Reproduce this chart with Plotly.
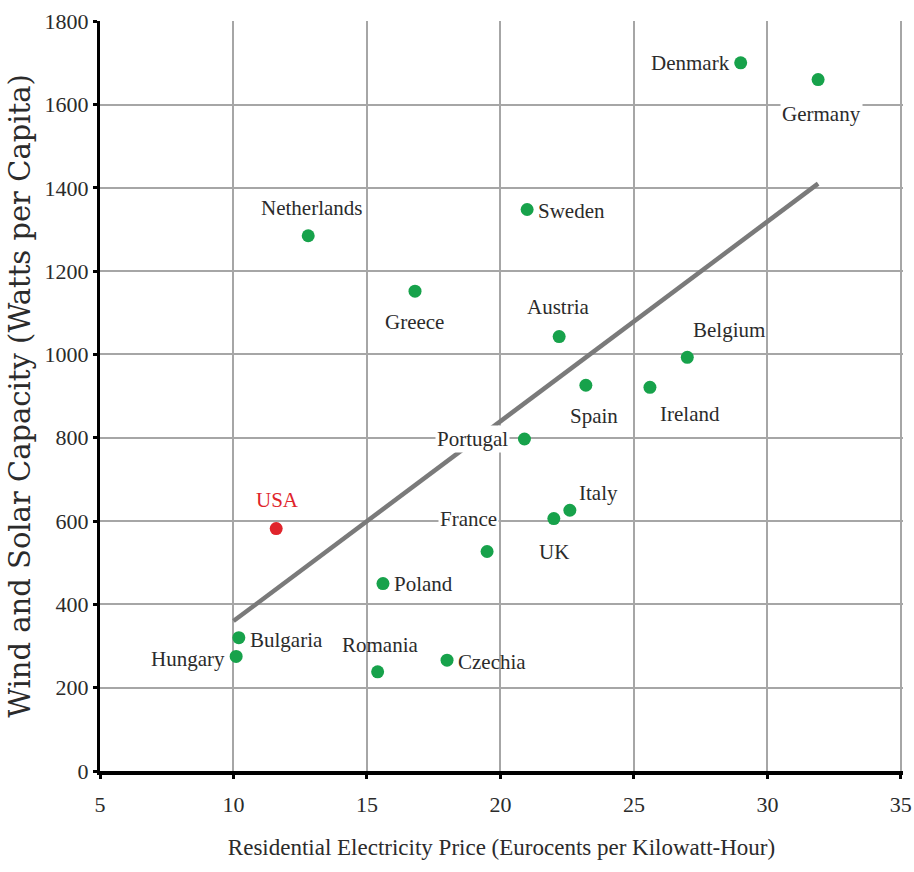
import plotly.graph_objects as go

countries = ["Denmark", "Germany", "Sweden", "Netherlands", "Greece", "Austria", "Belgium",
             "Spain", "Ireland", "Portugal", "Italy", "UK", "France", "Poland", "Romania",
             "Czechia", "Bulgaria", "Hungary"]
price = [29.0, 31.9, 21.0, 12.8, 16.8, 22.2, 27.0, 23.2, 25.6, 20.9, 22.6, 22.0, 19.5, 15.6,
         15.4, 18.0, 10.2, 10.1]
capacity = [1700, 1660, 1348, 1285, 1152, 1043, 993, 926, 921, 797, 626, 606, 527, 450,
            238, 266, 320, 275]

usa_price = [11.6]
usa_capacity = [582]

trend_x = [10.0, 31.9]
trend_y = [360, 1410]

x_ticks = [5, 10, 15, 20, 25, 30, 35]
y_ticks = [0, 200, 400, 600, 800, 1000, 1200, 1400, 1600, 1800]

SERIF = "Liberation Serif, Times New Roman, serif"

# label placement: (xanchor, yanchor, xshift, yshift, white background)
label_pos = {
    "Denmark": ("right", "middle", -9, 0, False),
    "Germany": ("center", "middle", 3, -34, True),
    "Sweden": ("left", "middle", 9, -2, False),
    "Netherlands": ("center", "middle", 3, 28, False),
    "Greece": ("center", "middle", -1, -31, False),
    "Austria": ("center", "middle", -1, 30, False),
    "Belgium": ("left", "middle", 4, 27, False),
    "Spain": ("center", "middle", 8, -31, False),
    "Ireland": ("left", "middle", 8, -27, False),
    "Portugal": ("right", "middle", -14, 0, True),
    "Italy": ("left", "middle", 7, 17, False),
    "UK": ("center", "middle", 0, -33, False),
    "France": ("right", "middle", 12, 32, True),
    "Poland": ("left", "middle", 9, 0, False),
    "Romania": ("center", "middle", 2, 27, False),
    "Czechia": ("left", "middle", 9, -2, False),
    "Bulgaria": ("left", "middle", 9, -2, False),
    "Hungary": ("right", "middle", -9, -3, False),
}

fig = go.Figure()
fig.add_trace(go.Scatter(x=trend_x, y=trend_y, mode="lines",
                         line=dict(color="#7a7a7a", width=4.5), hoverinfo="skip",
                         showlegend=False))
fig.add_trace(go.Scatter(x=price, y=capacity, mode="markers",
                         marker=dict(color="#17a24b", size=13), text=countries,
                         showlegend=False))
fig.add_trace(go.Scatter(x=usa_price, y=usa_capacity, mode="markers",
                         marker=dict(color="#e0242b", size=13), text=["USA"],
                         showlegend=False))

label_font = dict(family=SERIF, size=21, color="#2b2b2b")
for c, px, cy in zip(countries, price, capacity):
    xa, ya, xs, ys, bg = label_pos[c]
    fig.add_annotation(x=px, y=cy, text=c, showarrow=False, xanchor=xa, yanchor=ya,
                       xshift=xs, yshift=ys, font=label_font,
                       bgcolor="white" if bg else None, borderpad=1)
fig.add_annotation(x=usa_price[0], y=usa_capacity[0], text="USA", showarrow=False,
                   xanchor="center", yanchor="middle", xshift=1, yshift=29,
                   font=dict(family=SERIF, size=21, color="#e0242b"))

fig.update_layout(
    width=914, height=872,
    margin=dict(l=100, r=11, t=21, b=101),
    plot_bgcolor="white", paper_bgcolor="white",
    font=dict(family=SERIF, size=21, color="#2b2b2b"),
    xaxis=dict(range=[5, 35.08], tickvals=x_ticks, showgrid=True, gridcolor="#a6a6a6",
               gridwidth=2, showline=True, linecolor="black", linewidth=4,
               ticks="outside", ticklen=4, tickwidth=3, tickcolor="black",
               zeroline=False, automargin=False, ticklabelstandoff=7,
               tickfont=dict(family=SERIF, size=22, color="#2b2b2b"),
               title=dict(text="Residential Electricity Price (Eurocents per Kilowatt-Hour)",
                          font=dict(family=SERIF, size=23, color="#2b2b2b"),
                          standoff=23)),
    yaxis=dict(range=[0, 1800.5], tickvals=y_ticks, showgrid=True, gridcolor="#a6a6a6",
               gridwidth=2, showline=True, linecolor="black", linewidth=3,
               ticks="outside", ticklen=4, tickwidth=3, tickcolor="black",
               zeroline=False, automargin=False,
               tickfont=dict(family=SERIF, size=22, color="#2b2b2b"),
               title=dict(text="Wind and Solar Capacity (Watts per Capita)",
                          font=dict(family="DejaVu Serif", size=29, color="#2b2b2b"),
                          standoff=6)),
)

fig.write_html("out.html", config={"displayModeBar": False},
               post_script="document.body.style.margin='0';document.body.style.overflow='hidden';")
